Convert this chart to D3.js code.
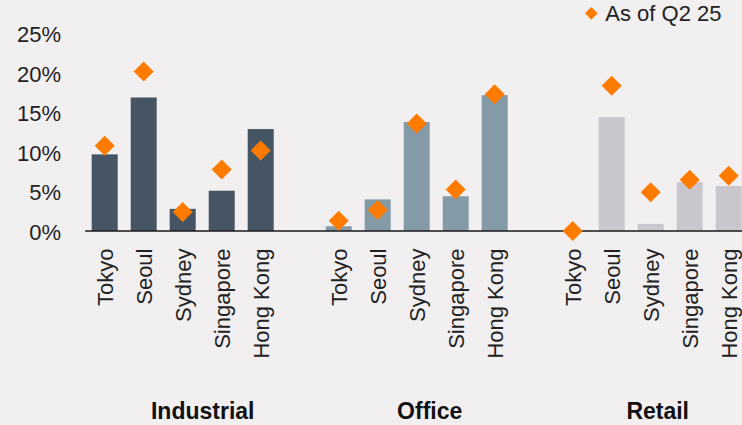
<!DOCTYPE html>
<html>
<head>
<meta charset="utf-8">
<script src="https://cdn.jsdelivr.net/npm/d3@7"></script>
<style>
  html, body { margin: 0; padding: 0; background: #f1eff0; }
  svg { display: block; font-family: "Liberation Sans", Arial, sans-serif; }
</style>
</head>
<body>
<svg id="chart" width="742" height="425"></svg>
<script>
// Sectors and cities shown in each sector group
const sectors = ["Industrial", "Office", "Retail"];
const cities = ["Tokyo", "Seoul", "Sydney", "Singapore", "Hong Kong"];

// Bar values (%) per sector, in city order
const industrialBars = [9.7, 16.9, 2.8, 5.1, 12.9];
const officeBars     = [0.6, 4.0, 13.8, 4.4, 17.2];
const retailBars     = [0.0, 14.4, 0.9, 6.2, 5.7];

// Diamond markers: values as of Q2 25 (%)
const industrialQ2 = [10.8, 20.2, 2.4, 7.8, 10.2];
const officeQ2     = [1.3, 2.65, 13.6, 5.25, 17.3];
const retailQ2     = [0.0, 18.4, 4.9, 6.5, 7.0];

const yTicks = [0, 5, 10, 15, 20, 25];
const legendLabel = "As of Q2 25";

const sectorColors = ["#465563", "#849aa7", "#c9c7cd"];
const markerColor = "#ff7b00";

const barSets = [industrialBars, officeBars, retailBars];
const markerSets = [industrialQ2, officeQ2, retailQ2];

// Flatten into rows, with a spacer slot between sector groups
const rows = [];
const slots = [];
sectors.forEach((s, gi) => {
  cities.forEach((c, ci) => {
    const key = s + "|" + c;
    slots.push(key);
    rows.push({ key, sector: s, gi, city: c, bar: barSets[gi][ci], marker: markerSets[gi][ci] });
  });
  if (gi < sectors.length - 1) slots.push("gap" + gi);
});

const svg = d3.select("#chart");

const x = d3.scaleBand()
  .domain(slots)
  .range([85.2, 748.2])
  .paddingInner(0.333)
  .paddingOuter(0.1665);

const y = d3.scaleLinear().domain([0, 25]).range([231, 33.5]);

// Y axis labels (no axis line or ticks)
const yAxis = svg.append("g")
  .attr("transform", "translate(61,0)")
  .call(d3.axisLeft(y).tickValues(yTicks).tickSize(0).tickPadding(0).tickFormat(d => d + "%"));
yAxis.select(".domain").remove();
yAxis.selectAll("text")
  .attr("fill", "#222")
  .style("font-size", "22px")
  .style("font-family", "'Liberation Sans', Arial, sans-serif")
  .attr("dy", "0.38em");

// Bars
svg.append("g").selectAll("rect")
  .data(rows)
  .join("rect")
  .attr("x", d => x(d.key))
  .attr("width", x.bandwidth())
  .attr("y", d => y(d.bar))
  .attr("height", d => y(0) - y(d.bar))
  .attr("fill", d => sectorColors[d.gi]);

// Baseline
svg.append("line")
  .attr("x1", 85.2).attr("x2", 742)
  .attr("y1", y(0)).attr("y2", y(0))
  .attr("stroke", "#1a1a1a")
  .attr("stroke-width", 1.6);

// Diamond markers
const diamond = d3.symbol().type(d3.symbolSquare).size(200);
svg.append("g").selectAll("path")
  .data(rows)
  .join("path")
  .attr("d", diamond)
  .attr("transform", d => `translate(${x(d.key) + x.bandwidth() / 2},${y(d.marker)}) rotate(45)`)
  .attr("fill", markerColor);

// City labels, rotated
svg.append("g").selectAll("text")
  .data(rows)
  .join("text")
  .attr("transform", d => `translate(${x(d.key) + x.bandwidth() / 2},248.5) rotate(-90)`)
  .attr("text-anchor", "end")
  .attr("dy", "0.36em")
  .attr("fill", "#222")
  .style("font-size", "22px")
  .text(d => d.city);

// Sector group labels
const groupOffsets = [20, 13, 7];
svg.append("g").selectAll("text")
  .data(sectors)
  .join("text")
  .attr("x", (s, i) => {
    const first = x(s + "|" + cities[0]);
    const last = x(s + "|" + cities[cities.length - 1]) + x.bandwidth();
    return (first + last) / 2 + groupOffsets[i];
  })
  .attr("y", 419)
  .attr("text-anchor", "middle")
  .attr("fill", "#111")
  .style("font-size", "23px")
  .style("font-weight", "bold")
  .text(s => s);

// Legend
const legend = svg.append("g").attr("transform", "translate(591.3,13.3)");
legend.append("path")
  .attr("d", d3.symbol().type(d3.symbolSquare).size(81)())
  .attr("transform", "rotate(45)")
  .attr("fill", markerColor);
legend.append("text")
  .attr("x", 14)
  .attr("dy", "0.36em")
  .attr("fill", "#222")
  .style("font-size", "22px")
  .text(legendLabel);
</script>
</body>
</html>
